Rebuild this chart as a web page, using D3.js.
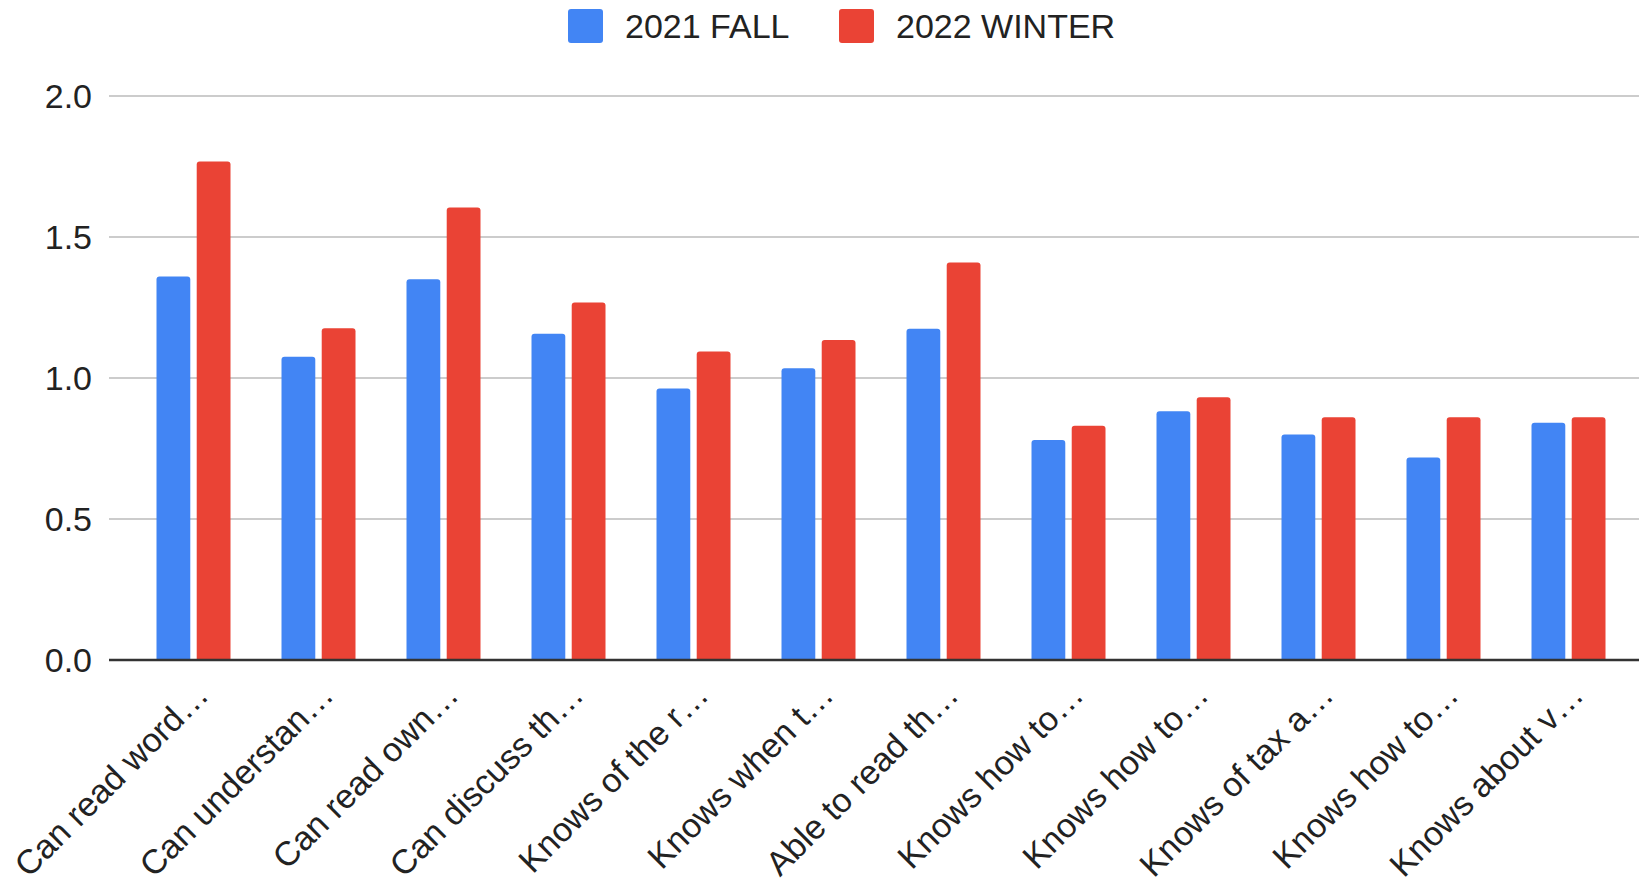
<!DOCTYPE html>
<html>
<head>
<meta charset="utf-8">
<script src="https://cdn.jsdelivr.net/npm/d3@7"></script>
<style>
  html, body { margin: 0; padding: 0; background: #fff; }
  svg { display: block; font-family: "Liberation Sans", Arial, sans-serif; }
</style>
</head>
<body>
<svg id="chart" width="1639" height="886"></svg>
<script>
const categories = [
  "Can read word…", "Can understan…", "Can read own…", "Can discuss th…",
  "Knows of the r…", "Knows when t…", "Able to read th…", "Knows how to…",
  "Knows how to…", "Knows of tax a…", "Knows how to…", "Knows about v…"
];
const seriesNames = ["2021 FALL", "2022 WINTER"];
const fall2021 = [1.36, 1.075, 1.35, 1.157, 0.963, 1.035, 1.175, 0.78, 0.882, 0.80, 0.718, 0.841];
const winter2022 = [1.768, 1.176, 1.605, 1.268, 1.094, 1.135, 1.41, 0.831, 0.932, 0.861, 0.861, 0.861];
const seriesColors = ["#4285F4", "#EA4335"];
const yTicks = [0, 0.5, 1.0, 1.5, 2.0];

const svg = d3.select("#chart");
const W = 1639, H = 886;

const y = d3.scaleLinear().domain([0, 2]).range([660, 96]);
const x0 = d3.scaleBand().domain(d3.range(categories.length))
  .range([131, 1631]).paddingInner(0.408).paddingOuter(0.204);
const x1 = d3.scaleBand().domain(seriesNames).range([0, x0.bandwidth()]).paddingInner(0.16);

// gridlines
svg.append("g").selectAll("line").data(yTicks.filter(d => d > 0)).join("line")
  .attr("x1", 109).attr("x2", W)
  .attr("y1", d => y(d)).attr("y2", d => y(d))
  .attr("stroke", "#cccccc").attr("stroke-width", 2);

// y tick labels
svg.append("g").selectAll("text").data(yTicks).join("text")
  .attr("x", 92).attr("y", d => y(d))
  .attr("dy", "0.36em")
  .attr("text-anchor", "end")
  .attr("font-size", 34)
  .attr("fill", "#222")
  .text(d => d.toFixed(1));

// bars
function topRounded(xp, yp, w, h, r) {
  r = Math.min(r, h, w / 2);
  return `M${xp},${yp + h} V${yp + r} Q${xp},${yp} ${xp + r},${yp} H${xp + w - r} Q${xp + w},${yp} ${xp + w},${yp + r} V${yp + h} Z`;
}
const seriesData = [fall2021, winter2022];
const gBars = svg.append("g");
seriesData.forEach((vals, si) => {
  gBars.append("g").selectAll("path").data(vals).join("path")
    .attr("d", (v, i) => topRounded(x0(i) + x1(seriesNames[si]), y(v), x1.bandwidth(), y(0) - y(v), 3))
    .attr("fill", seriesColors[si]);
});

// baseline
svg.append("line").attr("x1", 109).attr("x2", W).attr("y1", y(0)).attr("y2", y(0))
  .attr("stroke", "#333").attr("stroke-width", 2.5);

// x labels
svg.append("g").selectAll("text").data(categories).join("text")
  .attr("transform", (d, i) => `translate(${x0(i) + x0.bandwidth() / 2 + 17},${y(0) + 37}) rotate(-45)`)
  .attr("text-anchor", "end")
  .attr("font-size", 34)
  .attr("fill", "#222")
  .text(d => d);

// legend
const legendItems = [
  { name: seriesNames[0], color: seriesColors[0], x: 568 },
  { name: seriesNames[1], color: seriesColors[1], x: 839 }
];
const lg = svg.append("g");
legendItems.forEach(it => {
  lg.append("rect").attr("x", it.x).attr("y", 9).attr("width", 35).attr("height", 34)
    .attr("rx", 3).attr("fill", it.color);
  lg.append("text").attr("x", it.x + 57).attr("y", 38)
    .attr("font-size", 34).attr("fill", "#222").text(it.name);
});
</script>
</body>
</html>
